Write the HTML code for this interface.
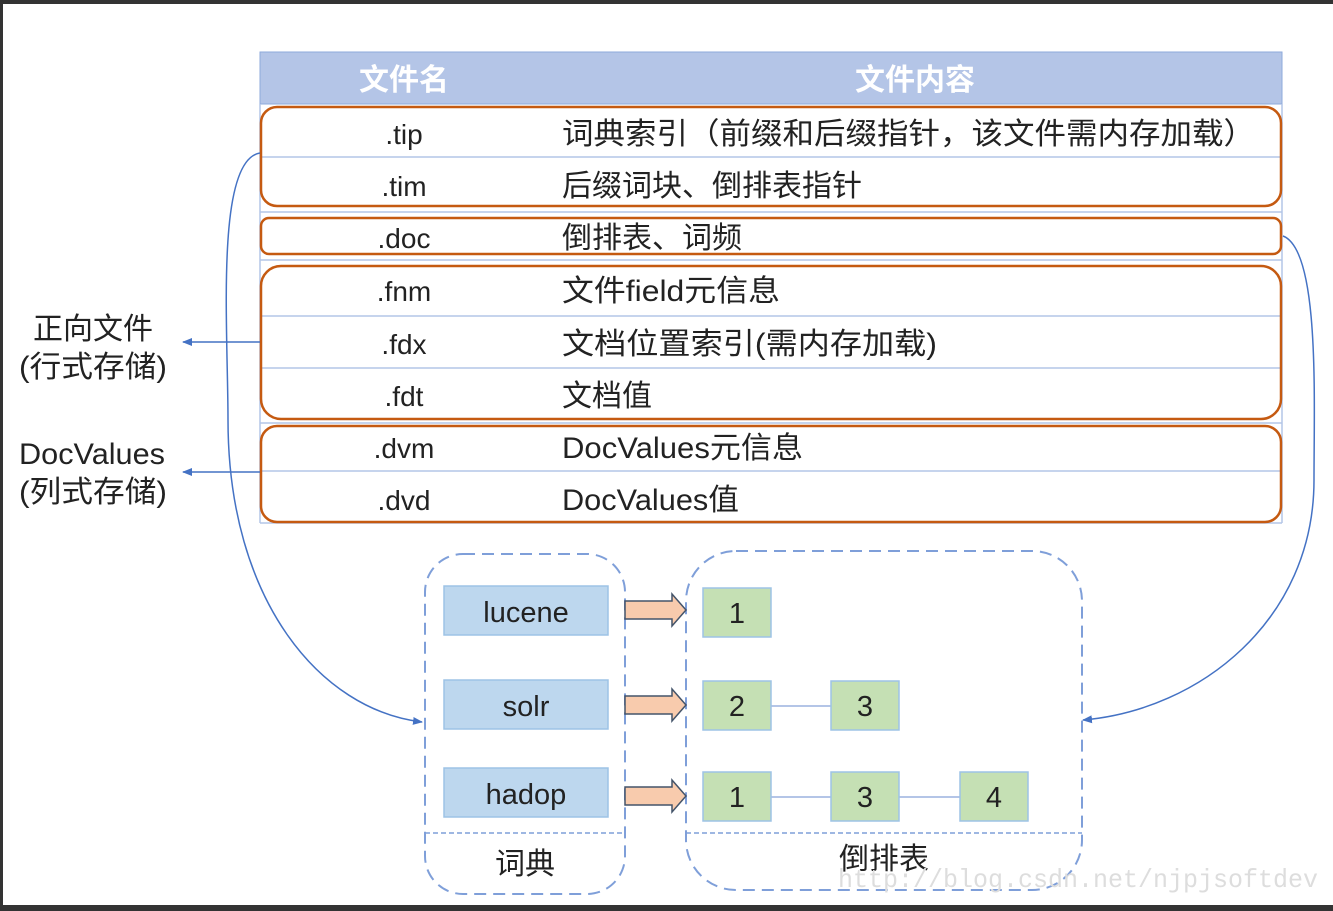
<!DOCTYPE html>
<html><head><meta charset="utf-8"><style>
html,body{margin:0;padding:0;background:#fff;width:1333px;height:911px;overflow:hidden}
svg{display:block}
text{font-family:"Liberation Sans","Noto Sans CJK SC",sans-serif;fill:#222}
</style></head><body>
<svg width="1333" height="911" viewBox="0 0 1333 911">
<defs>
<marker id="ah" markerWidth="10" markerHeight="10" refX="9" refY="5" orient="auto" markerUnits="userSpaceOnUse"><path d="M0,1 L10,5 L0,9 Z" fill="#4472c4"/></marker>
</defs>
<rect x="0" y="0" width="1333" height="4" fill="#333"/>
<rect x="0" y="0" width="3" height="911" fill="#333"/>
<rect x="0" y="905" width="1333" height="6" fill="#333"/>
<!-- header -->
<rect x="260" y="52" width="1022" height="52" fill="#b4c5e7" stroke="#8eaadb" stroke-width="1"/>
<text x="404" y="90" font-size="30" font-weight="bold" style="fill:#fff" text-anchor="middle">文件名</text>
<text x="915" y="90" font-size="30" font-weight="bold" style="fill:#fff" text-anchor="middle">文件内容</text>
<!-- table body lines -->
<g stroke="#b4c5e7" stroke-width="1.5" fill="none">
<line x1="260" y1="104" x2="260" y2="523"/><line x1="1282" y1="104" x2="1282" y2="523"/>
<line x1="260" y1="157" x2="1282" y2="157"/>
<line x1="260" y1="212" x2="1282" y2="212"/>
<line x1="260" y1="260" x2="1282" y2="260"/>
<line x1="260" y1="316" x2="1282" y2="316"/>
<line x1="260" y1="368" x2="1282" y2="368"/>
<line x1="260" y1="423" x2="1282" y2="423"/>
<line x1="260" y1="471" x2="1282" y2="471"/>
<line x1="260" y1="523" x2="1282" y2="523"/>
</g>
<g stroke="#c55a11" stroke-width="2.5" fill="none">
<rect x="261" y="107" width="1020" height="99" rx="16"/>
<rect x="261" y="218" width="1020" height="36" rx="8"/>
<rect x="261" y="266" width="1020" height="153" rx="20"/>
<rect x="261" y="426" width="1020" height="96" rx="16"/>
</g>
<g font-size="28">
<text x="404" y="144" text-anchor="middle">.tip</text>
<text x="404" y="196" text-anchor="middle">.tim</text>
<text x="404" y="248" text-anchor="middle">.doc</text>
<text x="404" y="301" text-anchor="middle">.fnm</text>
<text x="404" y="354" text-anchor="middle">.fdx</text>
<text x="404" y="406" text-anchor="middle">.fdt</text>
<text x="404" y="458" text-anchor="middle">.dvm</text>
<text x="404" y="510" text-anchor="middle">.dvd</text>
</g>
<g font-size="30">
<text x="562" y="144" textLength="693" lengthAdjust="spacingAndGlyphs">词典索引（前缀和后缀指针，该文件需内存加载）</text>
<text x="562" y="196">后缀词块、倒排表指针</text>
<text x="562" y="248">倒排表、词频</text>
<text x="562" y="301" textLength="218" lengthAdjust="spacingAndGlyphs">文件field元信息</text>
<text x="562" y="354" textLength="375" lengthAdjust="spacingAndGlyphs">文档位置索引(需内存加载)</text>
<text x="562" y="406">文档值</text>
<text x="562" y="458" textLength="241" lengthAdjust="spacingAndGlyphs">DocValues元信息</text>
<text x="562" y="510" textLength="177" lengthAdjust="spacingAndGlyphs">DocValues值</text>
</g>
<!-- left labels -->
<g font-size="30">
<text x="93" y="339" text-anchor="middle">正向文件</text>
<text x="93" y="377" text-anchor="middle" textLength="148" lengthAdjust="spacingAndGlyphs">(行式存储)</text>
<text x="92" y="464" text-anchor="middle" textLength="146" lengthAdjust="spacingAndGlyphs">DocValues</text>
<text x="93" y="502" text-anchor="middle" textLength="148" lengthAdjust="spacingAndGlyphs">(列式存储)</text>
</g>
<g stroke="#4472c4" stroke-width="1.5" fill="none">
<line x1="260" y1="342" x2="183" y2="342" marker-end="url(#ah)"/>
<line x1="260" y1="472" x2="183" y2="472" marker-end="url(#ah)"/>
<path d="M260,153 C215,160 228,330 228,420 C228,600 320,710 422,722" marker-end="url(#ah)"/>
<path d="M1283,236 C1320,250 1314,400 1314,480 C1314,620 1200,710 1083,720" marker-end="url(#ah)"/>
</g>
<!-- dashed containers -->
<g stroke="#7f9fd9" stroke-width="2" fill="none" stroke-dasharray="12,7">
<rect x="425" y="554" width="200" height="340" rx="38"/>
<rect x="686" y="551" width="396" height="339" rx="50"/>
</g>
<g stroke="#7f9fd9" stroke-width="1.5" fill="none" stroke-dasharray="5,3">
<line x1="425" y1="833" x2="625" y2="833"/>
<line x1="686" y1="833" x2="1082" y2="833"/>
</g>
<g fill="#bdd7ee" stroke="#9dc3e6" stroke-width="1.5">
<rect x="444" y="586" width="164" height="49"/>
<rect x="444" y="680" width="164" height="49"/>
<rect x="444" y="768" width="164" height="49"/>
</g>
<g font-size="29" text-anchor="middle">
<text x="526" y="622">lucene</text>
<text x="526" y="716">solr</text>
<text x="526" y="804">hadop</text>
</g>
<!-- arrows -->
<g fill="#f8cbad" stroke="#44546a" stroke-width="1.5">
<path d="M625,601 L672,601 L672,594 L686,610 L672,626 L672,619 L625,619 Z"/>
<path d="M625,696 L672,696 L672,689 L686,705 L672,721 L672,714 L625,714 Z"/>
<path d="M625,787 L672,787 L672,780 L686,796 L672,812 L672,805 L625,805 Z"/>
</g>
<g stroke="#b4c5e7" stroke-width="2">
<line x1="771" y1="706" x2="831" y2="706"/>
<line x1="771" y1="797" x2="960" y2="797"/>
</g>
<g fill="#c5e0b4" stroke="#9dc3e6" stroke-width="1.5">
<rect x="703" y="588" width="68" height="49"/>
<rect x="703" y="681" width="68" height="49"/>
<rect x="831" y="681" width="68" height="49"/>
<rect x="703" y="772" width="68" height="49"/>
<rect x="831" y="772" width="68" height="49"/>
<rect x="960" y="772" width="68" height="49"/>
</g>
<g font-size="29" text-anchor="middle">
<text x="737" y="623">1</text>
<text x="737" y="716">2</text>
<text x="865" y="716">3</text>
<text x="737" y="807">1</text>
<text x="865" y="807">3</text>
<text x="994" y="807">4</text>
</g>
<text x="525" y="874" font-size="30" text-anchor="middle">词典</text>
<text x="884" y="869" font-size="30" text-anchor="middle">倒排表</text>
<text x="838" y="887" font-size="26" textLength="480" lengthAdjust="spacingAndGlyphs" style="fill:#ddd;font-family:'Liberation Mono',monospace">http://blog.csdn.net/njpjsoftdev</text>
</svg>
</body></html>
